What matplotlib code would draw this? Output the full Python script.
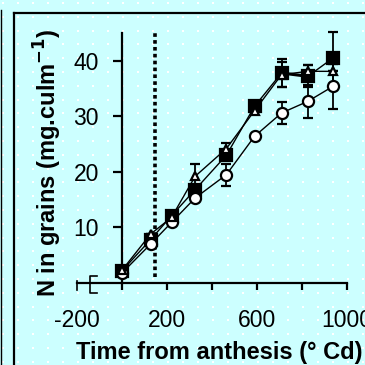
import matplotlib
matplotlib.use("Agg")
import matplotlib.pyplot as plt
from matplotlib.lines import Line2D
import numpy as np

plt.rcParams['font.family'] = ['Liberation Sans', 'DejaVu Sans']

# thermal time after anthesis (deg Cd)
time = [0, 127, 220, 325, 464, 589, 709, 826, 938]

# N in grains (mg/culm) for the three treatments
n_square = [2.2, 7.8, 12.1, 16.8, 23.0, 31.8, 37.8, 37.2, 40.5]
n_triangle = [2.3, 8.8, 11.8, 19.2, 24.2, 31.0, 37.5, 38.1, 38.1]
n_circle = [1.8, 7.0, 10.9, 15.3, 19.5, 26.4, 30.6, 32.7, 35.4]

err_square = [0, 0, 0, 0, 0, 0, 2.5, 2.0, 4.7]
err_triangle = [0, 0, 0, 2.2, 1.0, 0, 2.3, 1.1, 0]
err_circle = [0, 0, 0, 0, 2.0, 0, 2.0, 3.0, 4.0]

anthesis_line = 145

xticks = [-200, 0, 200, 400, 600, 800, 1000]
xticklabels = ['-200', '', '200', '', '600', '', '1000']
yticks = [10, 20, 30, 40]

bg = '#ccffff'
W = 365

fig = plt.figure(figsize=(3.65, 3.65), dpi=100, facecolor=bg)

# white dot pattern of the background
gx, gy = np.meshgrid(np.arange(3, W, 15), np.arange(3, W, 13.8))
dots = fig.add_axes([0, 0, 1, 1], zorder=-5)
dots.set_xlim(0, W)
dots.set_ylim(W, 0)
dots.axis('off')
dots.scatter(gx.ravel(), gy.ravel(), s=2.2, marker='s', color='white', lw=0)

# frame lines
def px_line(xs, ys, lw=1.5):
    fig.add_artist(Line2D([x / W for x in xs], [1 - y / W for y in ys],
                          color='black', lw=lw, transform=fig.transFigure))

px_line([13.5, 13.5], [12.5, W], lw=1.6)
px_line([13.5, W], [12.5, 12.5], lw=1.6)
px_line([0.5, 0.5], [10, W], lw=1.0)
# little break marks at left end of x axis
px_line([76.5, 76.5], [280.5, 290], lw=1.2)
px_line([97, 90, 90, 97], [275.5, 275.5, 293, 293], lw=1.2)

ax = fig.add_axes([77 / W, 82 / W, 270 / W, 250 / W])
ax.patch.set_visible(False)
ax.set_xlim(-200, 1000)
ax.set_ylim(0, 45)

for s in ['top', 'right']:
    ax.spines[s].set_visible(False)
ax.spines['left'].set_position(('data', 0))
ax.spines['left'].set_linewidth(1.6)
ax.spines['bottom'].set_linewidth(1.6)

ax.axvline(anthesis_line, ymin=1 / 45, ymax=1, color='black', lw=2.6,
           ls=(0, (1, 0.9)), clip_on=False, zorder=1)

kw = dict(color='black', lw=1.0, capsize=3.5, capthick=1.3, elinewidth=1.3,
          clip_on=False, markeredgecolor='black', markeredgewidth=1.6)
ax.errorbar(time, n_square, yerr=err_square, marker='s', ms=8.5,
            markerfacecolor='black', zorder=3, **kw)
ax.errorbar(time, n_circle, yerr=err_circle, marker='o', ms=8,
            markerfacecolor='white', zorder=4, **kw)
ax.errorbar(time, n_triangle, yerr=err_triangle, marker='^', ms=6,
            markerfacecolor='white', zorder=5, **kw)
ax.plot(time[6:8], n_square[6:8], color='black', lw=2.2, zorder=3)

ax.set_xticks(xticks)
ax.set_xticklabels(xticklabels)
ax.set_yticks(yticks)
ax.tick_params(axis='x', direction='out', length=5, width=1.6, pad=14,
               labelsize=16.5)
ax.tick_params(axis='y', direction='out', length=6.5, width=1.6, pad=10,
               labelsize=16.5)
ax.xaxis.get_major_ticks()[0].tick1line.set_visible(False)

fig.text(219 / W, 1 - 352 / W, 'Time from anthesis (\u00b0 Cd)', ha='center',
         va='center', fontsize=17, fontweight='bold')
fig.text(48 / W, 1 - 163 / W, 'N in grains (mg.culm$^{\\mathbf{-1}}$)',
         ha='center', va='center', rotation=90, fontsize=17,
         fontweight='bold')

fig.savefig('out.png', dpi=100, facecolor=bg)
